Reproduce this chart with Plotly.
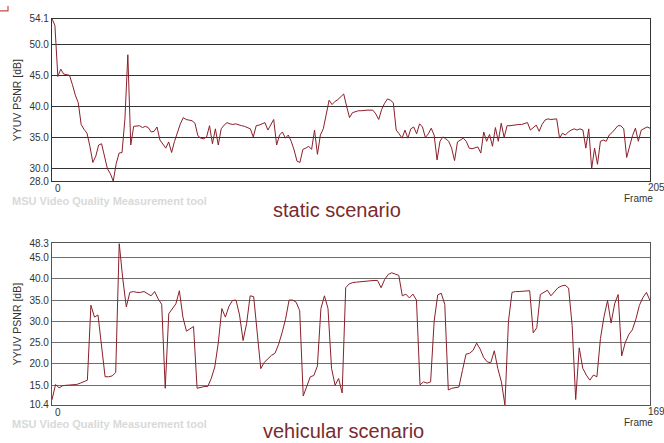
import plotly.graph_objects as go

# ---------------- data ----------------
static_psnr = [
    54.1, 53.0, 44.8, 46.0, 45.2, 45.1, 45.0, 43.5, 41.8, 40.6,
    37.1, 36.3, 35.7, 33.6, 31.0, 32.0, 33.8, 34.0, 31.8, 30.0,
    29.2, 28.0, 30.8, 32.5, 32.6, 38.0, 48.3, 33.8, 36.8, 36.9,
    36.9, 36.6, 36.8, 36.6, 35.9, 36.0, 36.7, 34.6, 33.9, 33.3,
    34.3, 32.6, 34.4, 36.0, 37.2, 38.2, 37.9, 37.8, 37.7, 37.3,
    35.3, 34.9, 34.8, 35.1, 36.9, 34.0, 36.4, 33.8, 36.4, 37.0,
    37.4, 37.2, 37.1, 37.2, 37.0, 36.9, 36.8, 36.6, 36.4, 35.1,
    36.9, 37.0, 37.2, 37.4, 36.2, 37.0, 37.9, 33.8, 35.4, 35.9,
    34.9, 35.4, 34.4, 33.0, 31.2, 31.0, 33.1, 33.3, 33.6, 33.1,
    36.2, 32.3, 35.4, 36.4, 38.5, 41.0, 40.3, 40.8, 41.1, 41.5,
    42.0, 40.0, 38.2, 39.0, 39.2, 39.3, 39.3, 39.4, 39.4, 39.4,
    39.4, 38.8, 37.9, 39.5, 40.5, 41.2, 41.0, 40.6, 36.2, 35.6,
    34.9, 36.2, 34.9, 36.4, 36.7, 35.6, 37.2, 36.7, 35.0, 35.6,
    36.5, 35.4, 31.4, 34.4, 35.1, 34.8, 34.4, 33.3, 31.3, 34.3,
    34.6, 34.9, 34.4, 33.3, 33.2, 33.3, 33.5, 32.5, 35.9, 34.4,
    35.5, 33.6, 36.6, 34.4, 37.3, 35.0, 36.9, 36.9, 37.0, 37.0,
    37.1, 37.1, 37.3, 37.4, 36.2, 36.6, 37.0, 36.0, 37.1, 37.8,
    38.0, 37.9, 38.0, 38.0, 34.9, 35.7, 35.4, 35.9, 36.2, 36.4,
    36.2, 36.4, 36.2, 33.3, 36.4, 30.0, 33.3, 30.7, 34.4, 34.6,
    34.4, 35.4, 35.8, 36.4, 36.9, 36.9, 36.4, 31.8, 33.8, 35.3,
    36.5, 34.4, 36.2, 36.5, 36.7, 36.5,
]
static_frames = list(range(len(static_psnr)))

vehicular_psnr = [
    11.6, 15.2, 14.4, 14.9, 15.0, 15.1, 15.1, 15.2, 15.5, 15.8,
    16.2, 33.8, 31.0, 31.5, 24.0, 17.0, 17.0, 17.2, 18.0, 48.3,
    40.0, 33.4, 36.8, 37.0, 36.8, 36.8, 37.0, 36.4, 36.0, 37.0,
    35.3, 34.0, 14.3, 31.8, 33.0, 34.1, 37.2, 31.0, 27.7, 28.2,
    28.8, 14.3, 14.5, 14.7, 14.7, 16.6, 19.3, 25.0, 33.0, 31.0,
    33.5, 34.9, 35.0, 31.5, 25.5, 29.5, 36.0, 35.8, 27.3, 18.9,
    20.4, 21.3, 22.0, 22.5, 24.5, 27.3, 30.5, 35.0, 35.0, 34.5,
    32.5, 12.5, 14.8, 17.0, 17.3, 19.5, 33.0, 36.0, 33.0, 19.0,
    15.0, 16.6, 13.2, 37.9, 38.8, 39.1, 39.2, 39.3, 39.4, 39.5,
    39.6, 39.6, 39.6, 37.9, 39.8, 41.0, 41.4, 41.1, 40.8, 36.0,
    36.4, 35.5, 36.4, 35.0, 15.1, 15.8, 15.5, 15.8, 30.0, 36.2,
    36.6, 34.0, 13.9, 14.3, 14.5, 14.6, 18.5, 22.3, 22.5, 23.2,
    24.9, 23.5, 21.5, 20.5, 20.3, 23.1, 18.9, 15.8, 10.4, 30.0,
    36.8, 37.0, 37.0, 37.1, 37.2, 37.2, 27.3, 28.5, 36.3, 36.8,
    37.3, 36.0, 37.0, 37.9, 38.3, 38.5, 37.8, 29.0, 11.65, 23.8,
    19.0, 17.4, 16.2, 17.4, 17.0, 26.0, 31.1, 34.9, 29.6, 34.1,
    36.3, 21.9, 25.0, 26.9, 28.0, 30.5, 33.75, 35.6, 36.8, 34.9,
]
vehicular_frames = list(range(len(vehicular_psnr)))

static_ticks = [28.0, 30.0, 35.0, 40.0, 45.0, 50.0, 54.1]
vehicular_ticks = [10.4, 15.0, 20.0, 25.0, 30.0, 35.0, 40.0, 45.0, 48.3]
static_last_frame = 205
vehicular_last_frame = 169

y_title = "YYUV PSNR [dB]"
x_title = "Frame"
watermark = "MSU Video Quality Measurement tool"
captions = ["static scenario", "vehicular scenario"]

# ---------------- figure ----------------
W, H = 664, 443
LINE = "#8b1f2a"
CAP = "#7a2b2e"
FONT = "Liberation Sans, Arial, sans-serif"


def px_x(x):
    return x / W


def px_y(y):
    return 1 - y / H


fig = go.Figure()
fig.add_trace(go.Scatter(x=static_frames, y=static_psnr, mode="lines",
                         line=dict(color=LINE, width=1), xaxis="x", yaxis="y",
                         showlegend=False, hoverinfo="x+y"))
fig.add_trace(go.Scatter(x=vehicular_frames, y=vehicular_psnr, mode="lines",
                         line=dict(color=LINE, width=1), xaxis="x2", yaxis="y2",
                         showlegend=False, hoverinfo="x+y"))

x0, x1 = 52, 650
top_y0, top_y1 = 13, 180
bot_y0, bot_y1 = 244, 410


def yax(ticks, rng, dom, anchor, grid, line):
    return dict(range=rng, domain=dom, anchor=anchor, tickmode="array",
                tickvals=ticks, ticktext=["%.1f" % t for t in ticks],
                showgrid=True, gridcolor=grid, gridwidth=1.3,
                showline=True, mirror=True, linecolor=line, linewidth=1.3,
                ticks="", zeroline=False,
                tickfont=dict(family=FONT, size=10, color="#333333"))


def xax(rng, anchor, line):
    return dict(range=rng, domain=[px_x(x0), px_x(x1)], anchor=anchor,
                showgrid=False, zeroline=False, showticklabels=False,
                ticks="", showline=True, mirror=True, linecolor=line,
                linewidth=1.3)


fig.update_layout(
    width=W, height=H,
    margin=dict(l=0, r=0, t=0, b=0),
    paper_bgcolor="white", plot_bgcolor="white",
    xaxis=xax([0, static_last_frame], "y", "#333333"),
    yaxis=yax(static_ticks, [min(static_ticks), max(static_ticks)],
              [px_y(top_y1), px_y(top_y0)], "x", "#333333", "#333333"),
    xaxis2=xax([0, vehicular_last_frame], "y2", "#555555"),
    yaxis2=yax(vehicular_ticks, [min(vehicular_ticks), max(vehicular_ticks)],
               [px_y(bot_y1), px_y(bot_y0)], "x2", "#6e6e6e", "#555555"),
)

ann = []
for xref, last, ybot, ymid, cap_y, wm_y, cap_x, cap in [
    ("x", static_last_frame, top_y1, 97, 210, 200, 337, captions[0]),
    ("x2", vehicular_last_frame, bot_y1, 327, 437, 430, 343, captions[1]),
]:
    # x tick labels (left-aligned at their frame)
    ann.append(dict(x=0, xref=xref, y=px_y(ybot), yref="paper", text="0",
                    showarrow=False, xanchor="left", yanchor="top", xshift=1,
                    font=dict(family=FONT, size=10, color="#333333")))
    ann.append(dict(x=last, xref=xref, y=px_y(ybot - 1), yref="paper", text=str(last),
                    showarrow=False, xanchor="left", yanchor="top", xshift=-4,
                    font=dict(family=FONT, size=10, color="#333333")))
    ann.append(dict(x=px_x(655), xref="paper", y=px_y(ybot + 10), yref="paper",
                    text=x_title, showarrow=False, xanchor="right", yanchor="top",
                    font=dict(family=FONT, size=10, color="#333333")))
    # y title
    ann.append(dict(x=px_x(17), xref="paper", y=px_y(ymid), yref="paper",
                    text=y_title, textangle=-90, showarrow=False,
                    xanchor="center", yanchor="middle",
                    font=dict(family=FONT, size=10.5, color="#333333")))
    # watermark
    ann.append(dict(x=px_x(10), xref="paper", y=px_y(wm_y), yref="paper",
                    text="<b>%s</b>" % watermark, showarrow=False,
                    xanchor="left", yanchor="middle",
                    font=dict(family=FONT, size=11, color="#d9d9d9")))
    # caption
    ann.append(dict(x=px_x(cap_x), xref="paper", y=px_y(cap_y), yref="paper",
                    text=cap, showarrow=False, xanchor="center", yanchor="middle",
                    font=dict(family=FONT, size=20, color=CAP)))

fig.update_layout(annotations=ann)

# small red corner mark at top-left
fig.add_shape(type="path", xref="paper", yref="paper",
              path="M 0 %f L %f %f L %f 1" % (px_y(5), px_x(8), px_y(5), px_x(8)),
              line=dict(color="#c84a4a", width=1.2))

fig.write_html("out.html",
               config={"displayModeBar": False},
               post_script="document.body.style.margin='0';"
                           "document.body.style.overflow='hidden';")
